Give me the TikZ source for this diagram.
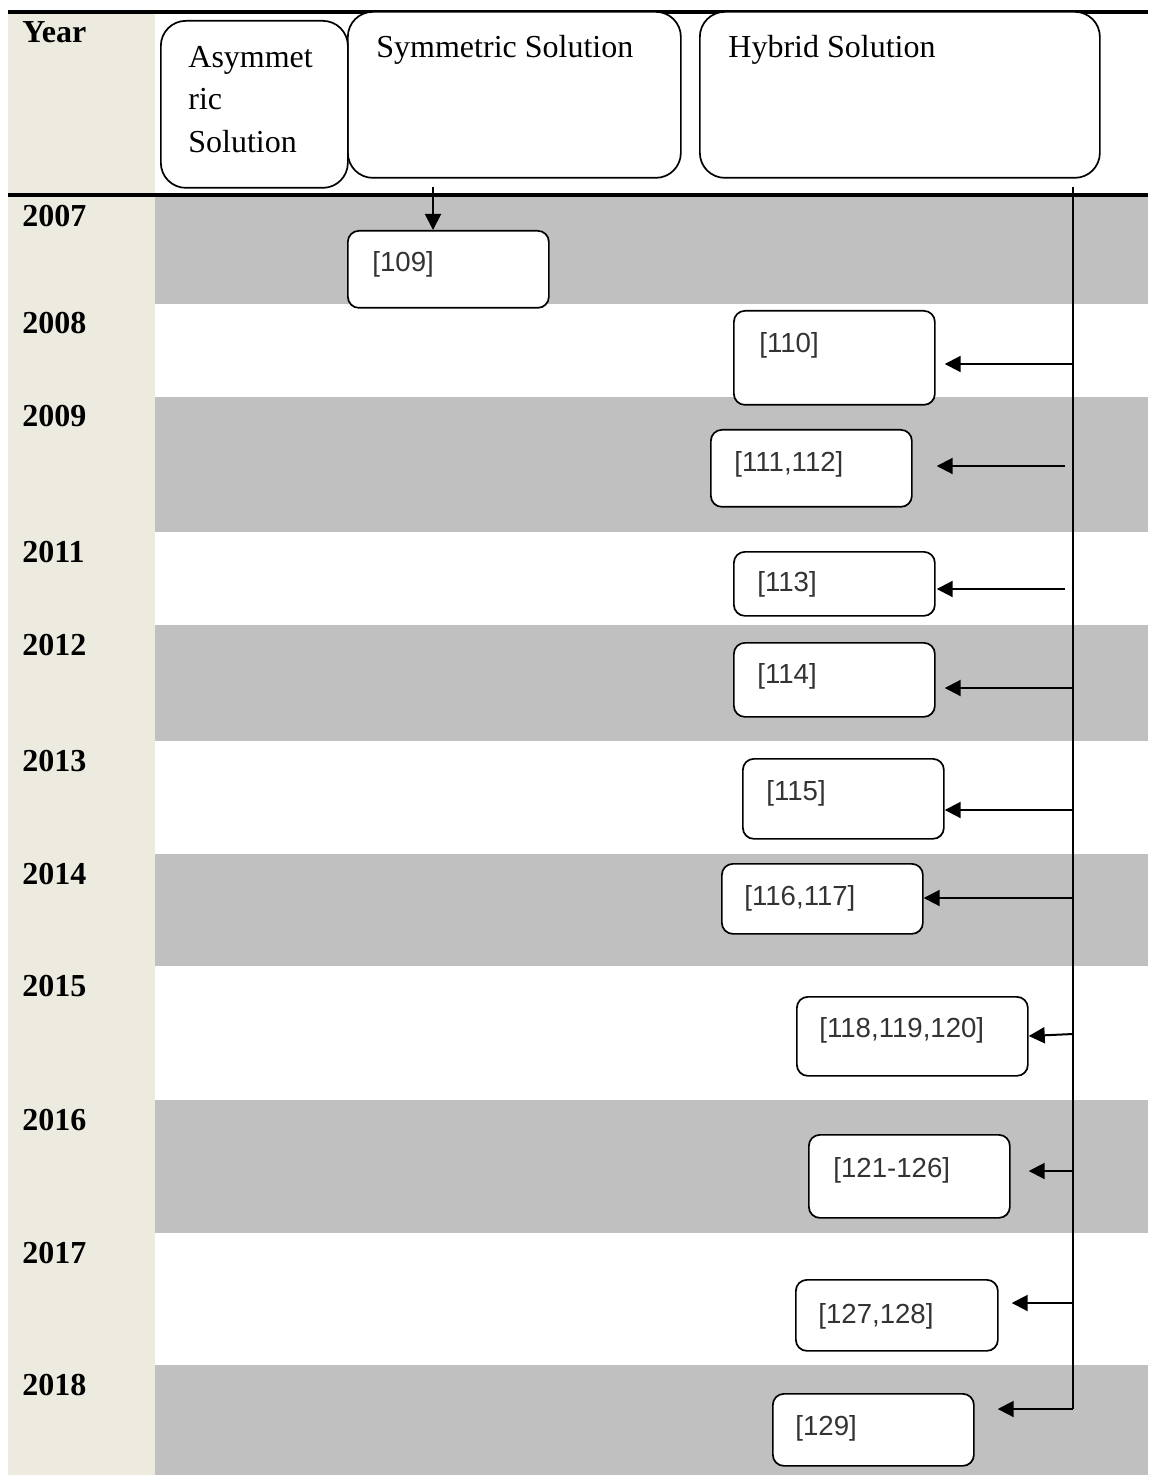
\documentclass[tikz,border=0pt]{standalone}
\usepackage{fontspec}
\setmainfont{Liberation Serif}
\newfontfamily\refsans{Liberation Sans}
\usetikzlibrary{arrows.meta,calc}
\definecolor{yearcol}{HTML}{EDEBE0}
\definecolor{bandgray}{HTML}{C0C0C0}
\definecolor{reftext}{HTML}{333333}
\begin{document}
\begin{tikzpicture}[x=0.5pt,y=-0.5pt,
  sz/.style 2 args={minimum width=#1*0.5pt,minimum height=#2*0.5pt},
  solbox/.style={draw,line width=0.85pt,rounded corners=12.5pt,fill=white,anchor=north west,inner sep=0pt},
  refbox/.style={draw,line width=0.85pt,rounded corners=5.5pt,fill=white,anchor=north west,inner sep=0pt},
  headtxt/.style={font=\fontsize{16}{21}\selectfont,anchor=base west,inner sep=0pt},
  yeartxt/.style={font=\fontsize{16}{19}\selectfont\bfseries,anchor=base west,inner sep=0pt},
  reftxt/.style={font=\refsans\fontsize{13.8}{16}\selectfont,text=reftext,anchor=base west,inner sep=0pt},
  arr/.style={line width=1pt,-{Triangle[length=8pt,width=8pt]}},
  spine/.style={line width=1pt},
  rule/.style={line width=1.6pt}
]
\useasboundingbox (0,0) rectangle (1148,1475);

% year column and alternating bands
\fill[yearcol] (8,12) rectangle (155,1475);
\foreach \a/\b in {197/304,397/532,625/741,854/966,1100/1233,1365/1475}
  \fill[bandgray] (155,\a) rectangle (1148,\b);

% table rules
\draw[rule] (8,12) -- (1148,12);
\draw[rule] (8,195) -- (1148,195);

% year labels
\node[yeartxt] (yhead) at (22,43) {Year};
\foreach \t/\yr in {197/2007,304/2008,397/2009,532/2011,625/2012,741/2013,854/2014,966/2015,1100/2016,1233/2017,1365/2018}
  \node[yeartxt] (y\yr) at (22,\t+30) {\yr};

% solution headers
\node[solbox,sz={333}{166}] (sym) at (347,11) {};
\node[solbox,sz={187}{167}] (asym) at (160,20) {};
\node[solbox,sz={400}{166}] (hyb) at (699,11) {};
\node[headtxt] (tasym1) at (188,68) {Asymmet};
\node[headtxt] (tasym2) at (188,110) {ric};
\node[headtxt] (tasym3) at (188,153) {Solution};
\node[headtxt] (tsym) at (376,58) {Symmetric Solution};
\node[headtxt] (thyb) at (728,58) {Hybrid Solution};

% reference boxes
\node[refbox,sz={201}{77}] (b109) at (347,230) {};
\node[refbox,sz={201}{94}] (b110) at (733,310) {};
\node[refbox,sz={201}{77}] (b111) at (710,429) {};
\node[refbox,sz={201}{64}] (b113) at (733,551) {};
\node[refbox,sz={201}{74}] (b114) at (733,642) {};
\node[refbox,sz={201}{80}] (b115) at (742,758) {};
\node[refbox,sz={201}{70}] (b116) at (721,863) {};
\node[refbox,sz={231}{79}] (b118) at (796,996) {};
\node[refbox,sz={201}{83}] (b121) at (808,1134) {};
\node[refbox,sz={202}{71}] (b127) at (795,1279) {};
\node[refbox,sz={201}{72}] (b129) at (772,1393) {};

\node[reftxt] (t109) at (372,272) {[109]};
\node[reftxt] (t110) at (759,353) {[110]};
\node[reftxt] (t111) at (734,472) {[111,112]};
\node[reftxt] (t113) at (757,591) {[113]};
\node[reftxt] (t114) at (757,683) {[114]};
\node[reftxt] (t115) at (766,800) {[115]};
\node[reftxt] (t116) at (744,905) {[116,117]};
\node[reftxt] (t118) at (819,1037) {[118,119,120]};
\node[reftxt] (t121) at (833,1177) {[121-126]};
\node[reftxt] (t127) at (818,1323) {[127,128]};
\node[reftxt] (t129) at (795,1435) {[129]};

% symmetric branch
\coordinate (symout) at (433,187);
\draw[arr] (symout) -- (symout |- b109.north);

% hybrid spine and its branches
\coordinate (stop) at (1073,187);
\coordinate (sbot) at (1073,1409);
\coordinate (s110) at (1073,364);
\coordinate (s111) at (1065,466);
\coordinate (s113) at (1065,589);
\coordinate (s114) at (1073,688);
\coordinate (s115) at (1073,810);
\coordinate (s116) at (1073,898);
\coordinate (s118) at (1073,1034);
\coordinate (s121) at (1073,1171);
\coordinate (s127) at (1073,1303);

\draw[spine] (stop) -- (sbot);
\draw[arr,shorten >=4.5pt] (s110) -- (b110.east |- s110);
\draw[arr,shorten >=12pt] (s111) -- (b111.east |- s111);
\draw[arr,shorten >=0.5pt] (s113) -- (b113.east |- s113);
\draw[arr,shorten >=4.5pt] (s114) -- (b114.east |- s114);
\draw[arr] (s115) -- (b115.east |- s115);
\draw[arr] (s116) -- (b116.east |- s116);
\draw[arr] (s118) -- ([yshift=-1pt]b118.east |- s118);
\draw[arr,shorten >=9pt] (s121) -- (b121.east |- s121);
\draw[arr,shorten >=6.5pt] (s127) -- (b127.east |- s127);
\draw[arr,shorten >=11.5pt] (sbot) -- (b129.east |- sbot);
\end{tikzpicture}
\end{document}
